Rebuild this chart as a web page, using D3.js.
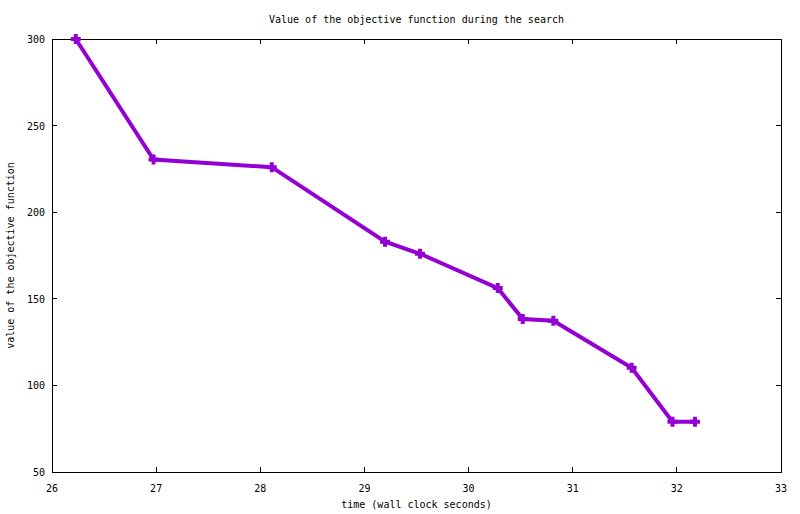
<!DOCTYPE html>
<html>
<head>
<meta charset="utf-8">
<script src="https://cdn.jsdelivr.net/npm/d3@7"></script>
<style>
  html, body { margin: 0; padding: 0; background: #fff; }
  svg text { font-family: "DejaVu Sans Mono", monospace; font-size: 10px; fill: #000; }
</style>
</head>
<body>
<svg id="chart" width="800" height="514"></svg>
<script>
const timeSeconds = [26.228, 26.975, 28.11, 29.198, 29.534, 30.28, 30.52, 30.814, 31.566, 31.958, 32.174];
const objectiveValues = [300, 230.4, 226.0, 183.0, 176.0, 156.2, 138.3, 137.3, 110.2, 79, 79];
const xTicks = [26, 27, 28, 29, 30, 31, 32, 33];
const yTicks = [50, 100, 150, 200, 250, 300];
const titleText = "Value of the objective function during the search";
const xLabelText = "time (wall clock seconds)";
const yLabelText = "value of the objective function";

const W = 800, H = 514;
const m = { left: 52, right: 19, top: 39, bottom: 42 };
const svg = d3.select("#chart");
const x = d3.scaleLinear().domain([26, 33]).range([m.left, W - m.right]);
const y = d3.scaleLinear().domain([50, 300]).range([H - m.bottom, m.top]);
const color = "#9400d3";
const tickLen = 5;

// ticks (inward, mirrored)
const tg = svg.append("g").attr("stroke", "#000").attr("stroke-width", 1).attr("shape-rendering", "crispEdges");
xTicks.forEach(t => {
  if (t === 26 || t === 33) return;
  tg.append("line").attr("x1", x(t)).attr("x2", x(t)).attr("y1", y(50)).attr("y2", y(50) - tickLen);
  tg.append("line").attr("x1", x(t)).attr("x2", x(t)).attr("y1", y(300)).attr("y2", y(300) + tickLen);
});
yTicks.forEach(t => {
  if (t === 50 || t === 300) return;
  tg.append("line").attr("x1", x(26)).attr("x2", x(26) + tickLen).attr("y1", y(t)).attr("y2", y(t));
  tg.append("line").attr("x1", x(33)).attr("x2", x(33) - tickLen).attr("y1", y(t)).attr("y2", y(t));
});

// border
svg.append("rect")
  .attr("x", x(26)).attr("y", y(300))
  .attr("width", x(33) - x(26)).attr("height", y(50) - y(300))
  .attr("fill", "none").attr("stroke", "#000").attr("stroke-width", 1)
  .attr("shape-rendering", "crispEdges");

// tick labels
svg.append("g").selectAll("text").data(xTicks).join("text")
  .attr("x", d => x(d)).attr("y", y(50) + 20)
  .attr("text-anchor", "middle").text(d => d);
svg.append("g").selectAll("text").data(yTicks).join("text")
  .attr("x", x(26) - 7).attr("y", d => y(d) + 4)
  .attr("text-anchor", "end").text(d => d);

// titles
svg.append("text").attr("x", (x(26) + x(33)) / 2).attr("y", 23)
  .attr("text-anchor", "middle").text(titleText);
svg.append("text").attr("x", (x(26) + x(33)) / 2).attr("y", 508)
  .attr("text-anchor", "middle").text(xLabelText);
svg.append("text")
  .attr("transform", `translate(14, ${(y(50) + y(300)) / 2}) rotate(-90)`)
  .attr("text-anchor", "middle").text(yLabelText);

// line
const pts = timeSeconds.map((t, i) => [t, objectiveValues[i]]);
svg.append("path")
  .datum(pts)
  .attr("fill", "none").attr("stroke", color).attr("stroke-width", 4)
  .attr("stroke-linejoin", "miter")
  .attr("d", d3.line().x(d => x(d[0])).y(d => y(d[1])));

// markers
const s = 5;
svg.append("g").selectAll("path").data(pts).join("path")
  .attr("fill", "none").attr("stroke", color).attr("stroke-width", 4)
  .attr("d", d => {
    const cx = x(d[0]), cy = y(d[1]);
    return `M${cx - s},${cy}H${cx + s}M${cx},${cy - s}V${cy + s}`;
  });
</script>
</body>
</html>
